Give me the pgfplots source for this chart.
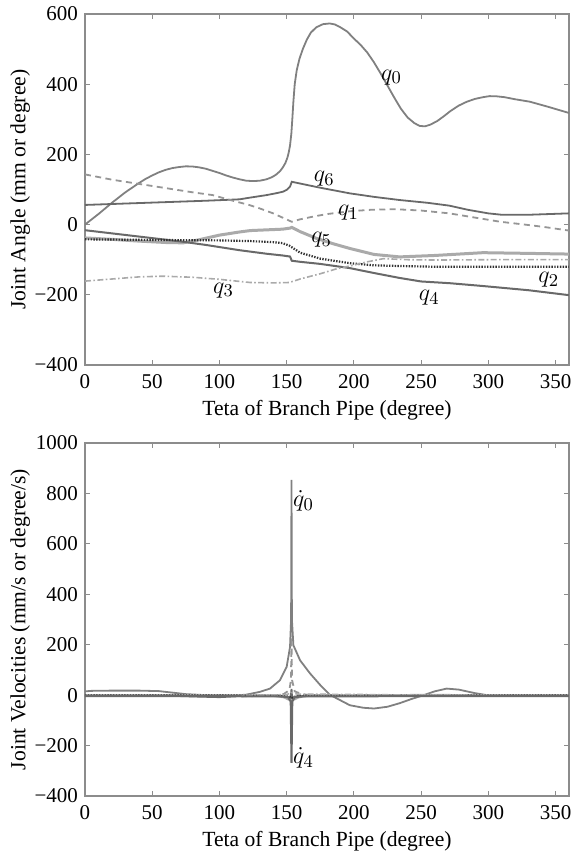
\documentclass[border=0pt]{standalone}
\usepackage{fontspec}
\setmainfont{Liberation Serif}
\usepackage{pgfplots}
\pgfplotsset{compat=1.18}
\definecolor{cA}{RGB}{128,128,128}
\definecolor{cB}{RGB}{105,105,105}
\definecolor{cC}{RGB}{150,150,150}
\definecolor{cD}{RGB}{170,170,170}
\definecolor{cE}{RGB}{50,50,50}
\definecolor{cAx}{RGB}{140,140,140}
\tikzset{lab/.style={font=\fontsize{13}{15}\selectfont, inner sep=0pt}}
\pgfplotsset{
 mystyle/.style={
  scale only axis, width=242pt,
  xmin=0, xmax=360, xtick={0,50,...,350},
  tick align=inside, major tick length=2.5pt,
  axis line style={cAx, line width=0.8pt},
  every tick/.style={cAx, line width=0.6pt},
  tick label style={font=\fontsize{10.5}{12}\selectfont},
  label style={font=\fontsize{10.8}{12}\selectfont},
  /pgf/number format/assume math mode=true,
  ylabel style={at={(axis description cs:-0.134,0.5)}, anchor=center},
  xlabel style={at={(axis description cs:0.5,0)}, anchor=center, yshift=-22.5pt},
  xticklabel style={yshift=-1pt},
  clip=true,
 },
}
\begin{document}
\begin{tikzpicture}
\path[use as bounding box] (-42.5pt,-246pt) rectangle (243pt,182.5pt);
% ---------------- top axis ----------------
\begin{axis}[mystyle, height=175.5pt, at={(0,0)}, anchor=south west,
  ymin=-400, ymax=600, ytick={-400,-200,0,200,400,600},
  yticklabels={−400,−200,0,200,400,600},
  xlabel={Teta of Branch Pipe (degree)},
  ylabel={Joint Angle (mm or degree)}]
% q0
\addplot[cA, line width=0.9pt] coordinates {
(0,0) (5,15) (10,30) (15,46) (20,62) (25,77) (30,92) (35,105) (40,118) (45,130)
(50,140) (55,149) (60,156) (65,161) (70,164) (75,166) (80,165.5) (85,163) (90,159)
(95,153) (100,147) (105,140) (110,134) (115,129) (120,125) (125,124) (130,125)
(135,129) (139,135) (142,142) (145,152) (147,162) (149,175) (150.5,190) (151.5,205)
(152.5,225) (153.5,260) (154.2,300) (155,350) (156,400) (157.5,440) (159.5,472)
(162,500) (165,527) (168,547) (172,562) (177,571) (182,573) (186,570) (190,562)
(195,550) (200,530) (205,512) (210,490) (215,462) (220,430) (225,396) (230,362)
(235,330) (240,305) (245,289) (249,281) (253,280) (257,285) (262,295) (267,309)
(272,324) (278,339) (284,350) (290,358) (296,363) (301,366) (306,365.5) (312,363)
(320,357) (331,350) (345,335) (360,318)};
% q6
\addplot[cB, line width=0.9pt] coordinates {
(0,56) (30,60) (60,64) (90,68) (115,72) (123,77) (135,84) (143,90) (147.5,94) (150,99)
(152.5,108) (153.8,122) (160,117) (175,105) (197,89) (215,79) (234,70) (255,62) (271,54)
(285,42) (300,32) (310,28) (330,28) (360,32)};
% q1
\addplot[cC, line width=0.9pt, dash pattern=on 3pt off 2.2pt] coordinates {
(0,143) (20,128) (40,116) (60,104) (80,92) (95,84) (108,70) (122,56) (130,46) (140,32)
(148,18) (153.8,8) (160,15) (170,23) (180,30) (197,38) (212,42) (230,44) (250,40)
(271,32) (290,20) (309,8) (325,1) (340,-6) (360,-17)};
% q5
\addplot[cD, line width=1.5pt] coordinates {
(0,-38) (20,-42) (40,-47) (60,-51) (73,-52) (85,-43) (100,-30) (115,-21) (123,-17)
(135,-15) (147,-13) (152.5,-10) (153.8,-8) (160,-20) (172,-39) (185,-55) (197,-68)
(215,-85) (234,-92) (260,-88) (296,-80) (330,-82) (360,-84)};
% q4
\addplot[cB, line width=1pt] coordinates {
(0,-16) (20,-25) (40,-34) (60,-43) (73,-49) (90,-58) (115,-73) (123,-77) (135,-83)
(147,-88) (152.5,-91) (153.8,-103) (160,-106) (175,-112) (197,-124) (215,-138)
(234,-152) (250,-162) (271.5,-167) (296,-175) (330,-187) (360,-201)};
% q2
\addplot[cE, line width=1.1pt, dash pattern=on 0.7pt off 0.7pt] coordinates {
(0,-42) (30,-43) (60,-44) (100,-45) (123,-47) (140,-50) (147,-53) (152,-60)
(160,-80) (175,-97) (197,-110) (215,-116) (234,-118) (260,-120) (300,-120) (360,-120)};
% q3
\addplot[cD, line width=0.8pt, dash pattern=on 3pt off 1.2pt on 0.8pt off 1.2pt] coordinates {
(0,-161) (20,-155) (40,-149) (58,-147) (80,-150) (100,-156) (123,-165) (140,-166)
(152,-165) (160,-155) (175,-140) (188,-125) (197,-118) (210,-106) (222,-97)
(240,-100) (260,-101) (300,-100) (360,-100)};
\node[lab] at (axis cs:228,420) {$q_0$};
\node[lab] at (axis cs:178,130) {$q_6$};
\node[lab] at (axis cs:196,33) {$q_1$};
\node[lab] at (axis cs:176,-44) {$q_5$};
\node[lab] at (axis cs:103,-187) {$q_3$};
\node[lab] at (axis cs:256,-209) {$q_4$};
\node[lab] at (axis cs:345,-158) {$q_2$};
\end{axis}
% ---------------- bottom axis ----------------
\begin{axis}[mystyle, height=176.5pt, at={(0,-215.5pt)}, anchor=south west,
  ymin=-400, ymax=1000, ytick={-400,-200,0,200,400,600,800,1000},
  yticklabels={−400,−200,0,200,400,600,800,1000},
  xlabel={Teta of Branch Pipe (degree)},
  ylabel={Joint Velocities (mm/s or degree/s)}]
% q0 dot
\addplot[cA, line width=0.9pt] coordinates {
(0,15) (5,17) (20,18) (40,18) (55,16) (65,10) (75,4) (90,0) (110,-2) (120,2)
(130,13) (137.6,26) (145,59) (150,112) (152.5,191) (153.3,300) (153.6,854)
(153.9,300) (155,198) (160,138) (167.4,86) (175,40) (182,2) (188,-15) (197,-40)
(207,-50) (215,-53) (225,-46) (234,-32) (243,-15) (252,0) (260,15) (269,26)
(278,22) (290,8) (299,0) (320,-2) (360,-2)};
% q1 dot (dashed)
\addplot[cC, line width=0.9pt, dash pattern=on 3pt off 2.2pt] coordinates {
(0,-3) (60,-3) (100,-5) (140,-3) (148,5) (152,20) (153.2,60) (153.6,230)
(154,60) (156,15) (162,3) (170,0) (250,-2) (360,-3)};
% q6 dot
\addplot[cB, line width=0.9pt] coordinates {
(0,-2) (60,-2) (85,-6) (100,-8) (115,-4) (140,-2) (150,-6) (153,-15)
(153.6,25) (154.2,-10) (158,-4) (175,-2) (250,-2) (360,-2)};
% q5 dot
\addplot[cD, line width=1.2pt] coordinates {
(0,-1) (100,-1) (140,-2) (148,-8) (152,-18) (153.6,-22) (155,-18) (159,-8)
(166,-2) (250,0) (360,-1)};
% q2 dot
\addplot[cE, line width=1pt, dash pattern=on 0.7pt off 0.7pt] coordinates {
(0,-1) (100,-1) (145,-2) (152,-6) (153.6,-12) (156,-6) (165,-2) (360,-1)};
% q3 dot
\addplot[cD, line width=0.8pt, dash pattern=on 3pt off 1.2pt on 0.8pt off 1.2pt] coordinates {
(0,-3) (100,-3) (150,2) (153.6,10) (158,4) (200,3) (250,0) (360,-3)};
% q4 dot
\addplot[cB, line width=1pt] coordinates {
(0,-4) (60,-4) (100,-4) (145,-5) (151,-8) (153,-25) (153.6,-269) (154.2,-25)
(156,-8) (162,-5) (250,-4) (360,-4)};
\node[lab, anchor=west] at (axis cs:154.5,770) {$\dot{q}_0$};
\node[lab, anchor=west] at (axis cs:154.5,-250) {$\dot{q}_4$};
\end{axis}
\end{tikzpicture}
\end{document}
